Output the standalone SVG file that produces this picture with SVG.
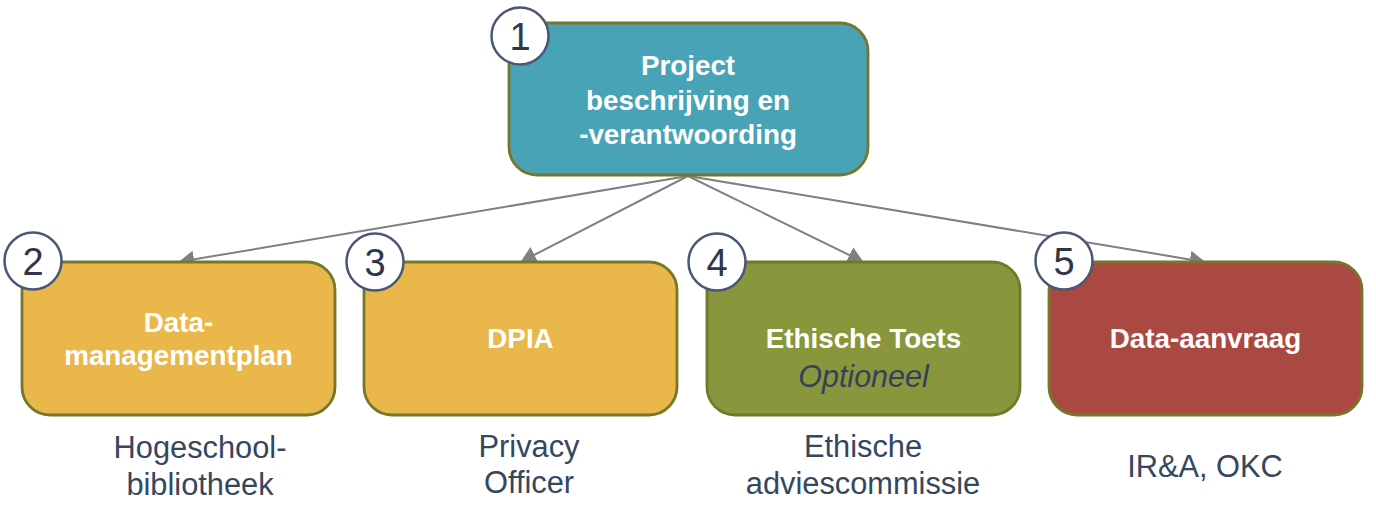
<svg xmlns="http://www.w3.org/2000/svg" width="1376" height="510" viewBox="0 0 1376 510">
<style>
.box{stroke:#75772A;stroke-width:2.8}
.bt{font-family:"Liberation Sans",Arial,sans-serif;font-weight:bold;font-size:27.8px;fill:#FFFFFF;text-anchor:middle}
.num{fill:#FFFFFF;stroke:#4A5775;stroke-width:2.5}
.nt{font-family:"Liberation Sans",Arial,sans-serif;font-size:38px;fill:#2E3747;text-anchor:middle}
.lbl{font-family:"Liberation Sans",Arial,sans-serif;font-size:30.8px;fill:#34475F;text-anchor:middle}
.opt{font-family:"Liberation Sans",Arial,sans-serif;font-size:30.5px;font-style:italic;fill:#33415C;text-anchor:middle}
.conn{stroke:#808080;stroke-width:2;fill:none;marker-end:url(#ah)}
</style>
<defs>
<marker id="ah" markerUnits="userSpaceOnUse" viewBox="0 -9 16 18" refX="5.7" refY="0" markerWidth="16" markerHeight="18" orient="auto">
<path d="M0,-8.7 L15.7,0 L0,8.7 Z" fill="#808080"/>
</marker>
</defs>
<rect width="1376" height="510" fill="#FFFFFF"/>
<g id="connectors">
<line class="conn" x1="688" y1="176" x2="188.4" y2="260.3"/>
<line class="conn" x1="688" y1="176" x2="529.4" y2="257.4"/>
<line class="conn" x1="688" y1="176" x2="854.5" y2="257.6"/>
<line class="conn" x1="688" y1="176" x2="1195.6" y2="260.4"/>
</g>
<g id="node1">
<rect class="box" x="509" y="23" width="359" height="152" rx="28" fill="#49A3B7"/>
<text class="bt" x="688" y="75">Project</text>
<text class="bt" x="688" y="109.5">beschrijving en</text>
<text class="bt" x="688" y="144">-verantwoording</text>
<circle class="num" cx="520" cy="36" r="28.5"/>
<text class="nt" x="520" y="49.5">1</text>
</g>
<g id="node2">
<rect class="box" x="22" y="262" width="313" height="153" rx="28" fill="#EAB74B"/>
<text class="bt" x="178.5" y="332">Data-</text>
<text class="bt" x="178.5" y="365">managementplan</text>
<circle class="num" cx="33" cy="261" r="28.5"/>
<text class="nt" x="33" y="274.5">2</text>
<text class="lbl" x="200" y="458">Hogeschool-</text>
<text class="lbl" x="200" y="495">bibliotheek</text>
</g>
<g id="node3">
<rect class="box" x="364" y="262" width="313" height="153" rx="28" fill="#EAB74B"/>
<text class="bt" x="520.5" y="348">DPIA</text>
<circle class="num" cx="375" cy="262" r="28.5"/>
<text class="nt" x="375" y="275.5">3</text>
<text class="lbl" x="529" y="457">Privacy</text>
<text class="lbl" x="529" y="493">Officer</text>
</g>
<g id="node4">
<rect class="box" x="707" y="262" width="313" height="153" rx="28" fill="#88973B"/>
<text class="bt" x="863.5" y="348">Ethische Toets</text>
<text class="opt" x="863.5" y="387">Optioneel</text>
<circle class="num" cx="717" cy="262" r="28.5"/>
<text class="nt" x="717" y="275.5">4</text>
<text class="lbl" x="863" y="457">Ethische</text>
<text class="lbl" x="863" y="494">adviescommissie</text>
</g>
<g id="node5">
<rect class="box" x="1049" y="262" width="313" height="153" rx="28" fill="#A94942"/>
<text class="bt" x="1205.5" y="348">Data-aanvraag</text>
<circle class="num" cx="1064" cy="261" r="28.5"/>
<text class="nt" x="1064" y="274.5">5</text>
<text class="lbl" x="1205" y="477">IR&amp;A, OKC</text>
</g>
</svg>
